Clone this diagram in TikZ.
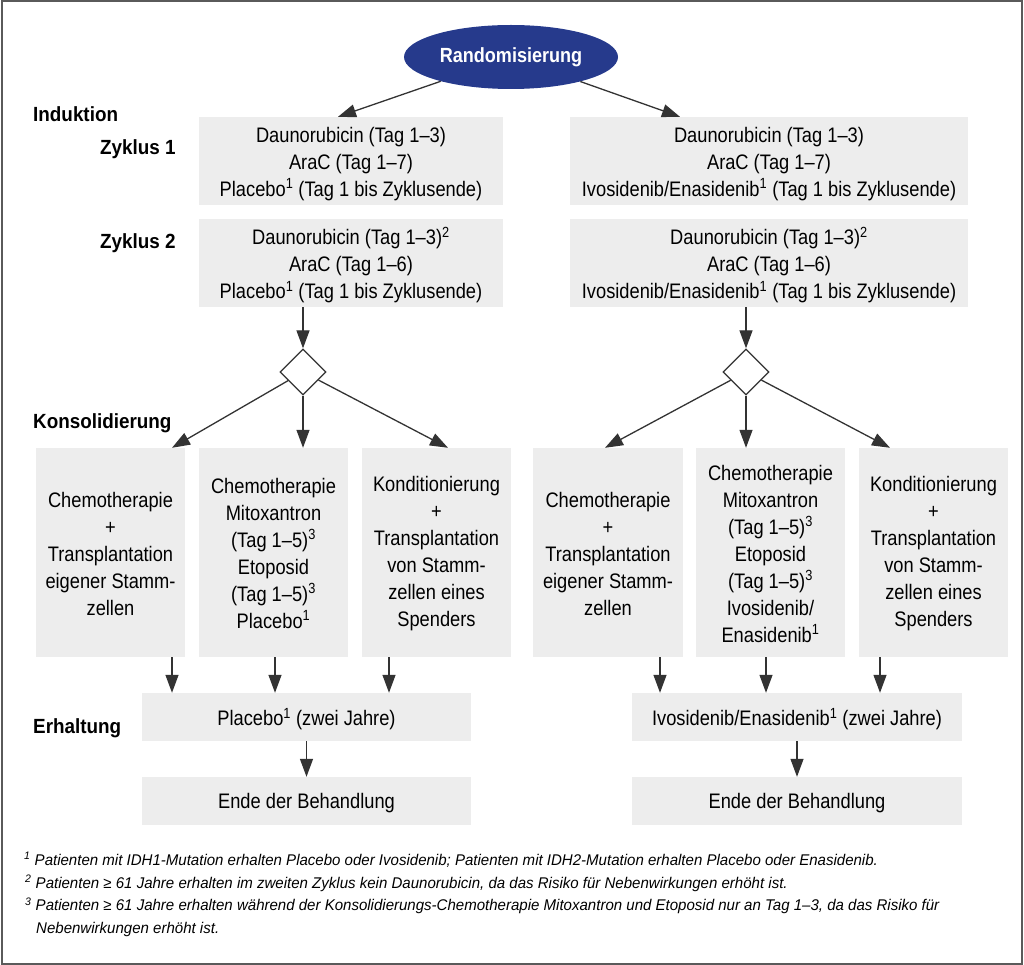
\documentclass[tikz,border=0pt]{standalone}
\usepackage{fontspec}
\setmainfont{Liberation Sans}[FakeStretch=0.87]
\newfontfamily\lblfont{Liberation Sans}[FakeStretch=0.92]
\newfontfamily\ellfont{Liberation Sans}[FakeStretch=0.88]
\newfontfamily\notefont{Liberation Sans}[FakeStretch=0.97]
\usetikzlibrary{shapes.geometric,arrows.meta,calc}
\definecolor{boxgray}{HTML}{EDEDED}
\definecolor{navy}{HTML}{263A8C}
\definecolor{linecol}{HTML}{333333}
\definecolor{bordercol}{HTML}{5A5A5A}
\tikzset{
  gbox/.style={fill=boxgray, draw=none, inner sep=0pt},
  btxt/.style={inner sep=0pt, align=center, font=\fontsize{21}{27}\selectfont},
  arr/.style={draw=linecol, line width=1.3pt, -{Triangle[length=18pt,width=13pt]}},
  lbl/.style={anchor=base west, inner sep=0pt, font=\lblfont\bfseries\fontsize{20.5}{24}\selectfont},
  note/.style={anchor=base west, inner sep=0pt, font=\notefont\itshape\fontsize{15.5}{18}\selectfont},
  dia/.style={diamond, draw=linecol, fill=white, line width=1.3pt, minimum width=46pt, minimum height=46pt, inner sep=0pt}
}
\begin{document}
\begin{tikzpicture}[x=1pt,y=-1pt]
\useasboundingbox (0,0) rectangle (1024,965);
\draw[bordercol, line width=2pt] (1.5,1) rectangle (1022,963.5);

% ellipse
\node[ellipse, fill=navy, minimum width=214pt, minimum height=64pt, inner sep=0pt, text=white,
  font=\ellfont\bfseries\fontsize{20.5}{24}\selectfont] (ell) at (511,57) {Randomisierung};

% labels
\node[lbl] (lInd) at (33,121.5) {Induktion};
\node[lbl] (lZ1) at (100,155) {Zyklus 1};
\node[lbl] (lZ2) at (100,249) {Zyklus 2};
\node[lbl] (lKon) at (33,428) {Konsolidierung};
\node[lbl] (lErh) at (33,733) {Erhaltung};

% induction boxes
\node[gbox, minimum width=304pt, minimum height=88pt] (L1) at (351,161) {};
\node[gbox, minimum width=304pt, minimum height=88pt] (L2) at (351,263) {};
\node[gbox, minimum width=398pt, minimum height=88pt] (R1) at (769,161) {};
\node[gbox, minimum width=398pt, minimum height=88pt] (R2) at (769,263) {};
\node[btxt] (L1t) at ([yshift=-3pt]L1.center)
  {Daunorubicin (Tag 1–3)\\AraC (Tag 1–7)\\Placebo\textsuperscript{1} (Tag 1 bis Zyklusende)};
\node[btxt] (L2t) at ([yshift=-2pt]L2.center)
  {Daunorubicin (Tag 1–3)\textsuperscript{2}\\AraC (Tag 1–6)\\Placebo\textsuperscript{1} (Tag 1 bis Zyklusende)};
\node[btxt] (R1t) at ([yshift=-3pt]R1.center)
  {Daunorubicin (Tag 1–3)\\AraC (Tag 1–7)\\Ivosidenib/Enasidenib\textsuperscript{1} (Tag 1 bis Zyklusende)};
\node[btxt] (R2t) at ([yshift=-2pt]R2.center)
  {Daunorubicin (Tag 1–3)\textsuperscript{2}\\AraC (Tag 1–6)\\Ivosidenib/Enasidenib\textsuperscript{1} (Tag 1 bis Zyklusende)};

% diamonds
\node[dia] (dL) at (303,372) {};
\node[dia] (dR) at (746,372) {};

% consolidation boxes
\node[gbox, minimum width=149pt, minimum height=209pt] (A) at (110.5,552.5) {};
\node[gbox, minimum width=149pt, minimum height=209pt] (B) at (273.5,552.5) {};
\node[gbox, minimum width=149pt, minimum height=209pt] (C) at (436.5,552.5) {};
\node[gbox, minimum width=150pt, minimum height=209pt] (D) at (608,552.5) {};
\node[gbox, minimum width=149pt, minimum height=209pt] (E) at (770.5,552.5) {};
\node[gbox, minimum width=149pt, minimum height=209pt] (F) at (933.5,552.5) {};
\node[btxt] (At) at ([yshift=-1pt]A.center)
  {Chemotherapie\\+\\Transplantation\\eigener Stamm-\\zellen};
\node[btxt] (Bt) at ([yshift=-1pt]B.center)
  {Chemotherapie\\Mitoxantron\\(Tag 1–5)\textsuperscript{3}\\Etoposid\\(Tag 1–5)\textsuperscript{3}\\Placebo\textsuperscript{1}};
\node[btxt] (Ct) at ([yshift=-1pt]C.center)
  {Konditionierung\\+\\Transplantation\\von Stamm-\\zellen eines\\Spenders};
\node[btxt] (Dt) at ([yshift=-1pt]D.center)
  {Chemotherapie\\+\\Transplantation\\eigener Stamm-\\zellen};
\node[btxt] (Et) at ([yshift=-1pt]E.center)
  {Chemotherapie\\Mitoxantron\\(Tag 1–5)\textsuperscript{3}\\Etoposid\\(Tag 1–5)\textsuperscript{3}\\Ivosidenib/\\Enasidenib\textsuperscript{1}};
\node[btxt] (Ft) at ([yshift=-1pt]F.center)
  {Konditionierung\\+\\Transplantation\\von Stamm-\\zellen eines\\Spenders};

% maintenance
\node[gbox, minimum width=329pt, minimum height=48pt] (EL) at (306.5,717) {};
\node[gbox, minimum width=329pt, minimum height=48pt] (ZL) at (306.5,801) {};
\node[gbox, minimum width=330pt, minimum height=48pt] (ER) at (797,717) {};
\node[gbox, minimum width=330pt, minimum height=48pt] (ZR) at (797,801) {};
\node[btxt] (ELt) at ([yshift=-2pt]EL.center) {Placebo\textsuperscript{1} (zwei Jahre)};
\node[btxt] (ZLt) at ([yshift=-2.5pt]ZL.center) {Ende der Behandlung};
\node[btxt] (ERt) at ([yshift=-2pt]ER.center) {Ivosidenib/Enasidenib\textsuperscript{1} (zwei Jahre)};
\node[btxt] (ZRt) at ([yshift=-2.5pt]ZR.center) {Ende der Behandlung};

% connectors
\draw[arr] (ell) -- ([xshift=-13pt]L1.north);
\draw[arr] (ell) -- ([xshift=-89pt]R1.north);
\draw[arr] (dL |- L2.south) -- (dL);
\draw[arr] (dR |- R2.south) -- (dR);
\draw[arr] (dL) -- ([xshift=61.5pt]A.north);
\draw[arr] (dL) -- (dL |- B.north);
\draw[arr] (dL) -- ([xshift=11.5pt]C.north);
\draw[arr] (dR) -- ([xshift=-3pt]D.north);
\draw[arr] (dR) -- (dR |- E.north);
\draw[arr] (dR) -- ([xshift=-43.5pt]F.north);

\draw[arr] ($(A.south)+(61.5,0)$) coordinate (a1) -- (a1 |- EL.north);
\draw[arr] ($(B.south)+(1.5,0)$) coordinate (a2) -- (a2 |- EL.north);
\draw[arr] ($(C.south)+(-47.5,0)$) coordinate (a3) -- (a3 |- EL.north);
\draw[arr] ($(D.south)+(52,0)$) coordinate (a4) -- (a4 |- ER.north);
\draw[arr] ($(E.south)+(-4.5,0)$) coordinate (a5) -- (a5 |- ER.north);
\draw[arr] ($(F.south)+(-53.5,0)$) coordinate (a6) -- (a6 |- ER.north);
\draw[arr] (EL.south) -- (ZL.north);
\draw[arr] (ER.south) -- (ZR.north);

% footnotes
\node[note] (n1) at (24,865) {\textsuperscript{1} Patienten mit IDH1-Mutation erhalten Placebo oder Ivosidenib; Patienten mit IDH2-Mutation erhalten Placebo oder Enasidenib.};
\node[note] (n2) at (25,888) {\textsuperscript{2} Patienten ≥ 61 Jahre erhalten im zweiten Zyklus kein Daunorubicin, da das Risiko für Nebenwirkungen erhöht ist.};
\node[note] (n3) at (25,910.5) {\textsuperscript{3} Patienten ≥ 61 Jahre erhalten während der Konsolidierungs-Chemotherapie Mitoxantron und Etoposid nur an Tag 1–3, da das Risiko für};
\node[note] (n4) at (36,933) {Nebenwirkungen erhöht ist.};
\end{tikzpicture}
\end{document}
